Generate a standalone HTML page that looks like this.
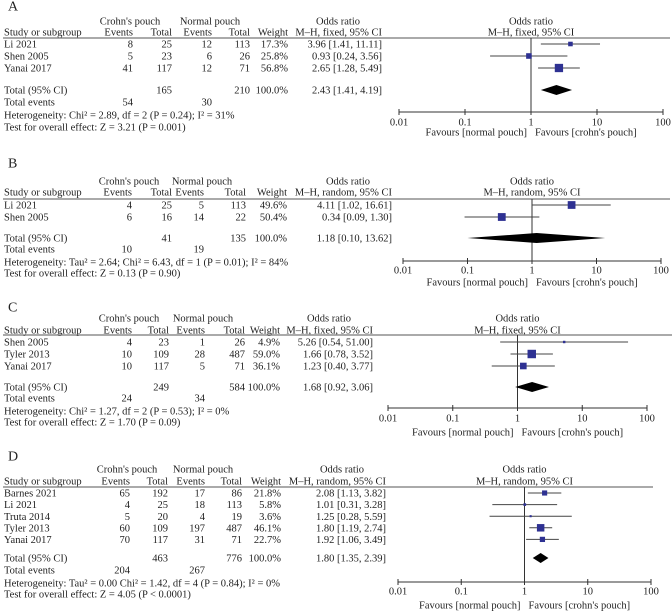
<!DOCTYPE html>
<html><head><meta charset="utf-8"><style>
html,body{margin:0;padding:0;background:#fff;}
svg{display:block;font-family:"Liberation Serif",serif;font-size:10.5px;fill:#222;}
</style></head><body>
<svg id="chart" width="672" height="611" viewBox="0 0 672 611" xmlns="http://www.w3.org/2000/svg"></svg>
<script>
// ---------- Panel A data ----------
const studiesA = ["Li 2021","Shen 2005","Yanai 2017"];
const crohnEventsA = [8,5,41];
const crohnTotalA = [25,23,117];
const normalEventsA = [12,6,12];
const normalTotalA = [113,26,71];
const weightA = [17.3,25.8,56.8];
const orA = [3.96,0.93,2.65];
const loA = [1.41,0.24,1.28];
const hiA = [11.11,3.56,5.49];
const totalA = [165,210,2.43,1.41,4.19,54,30];
// ---------- Panel B data ----------
const studiesB = ["Li 2021","Shen 2005"];
const crohnEventsB = [4,6];
const crohnTotalB = [25,16];
const normalEventsB = [5,14];
const normalTotalB = [113,22];
const weightB = [49.6,50.4];
const orB = [4.11,0.34];
const loB = [1.02,0.09];
const hiB = [16.61,1.30];
const totalB = [41,135,1.18,0.10,13.62,10,19];
// ---------- Panel C data ----------
const studiesC = ["Shen 2005","Tyler 2013","Yanai 2017"];
const crohnEventsC = [4,10,10];
const crohnTotalC = [23,109,117];
const normalEventsC = [1,28,5];
const normalTotalC = [26,487,71];
const weightC = [4.9,59.0,36.1];
const orC = [5.26,1.66,1.23];
const loC = [0.54,0.78,0.40];
const hiC = [51.00,3.52,3.77];
const totalC = [249,584,1.68,0.92,3.06,24,34];
// ---------- Panel D data ----------
const studiesD = ["Barnes 2021","Li 2021","Truta 2014","Tyler 2013","Yanai 2017"];
const crohnEventsD = [65,4,5,60,70];
const crohnTotalD = [192,25,20,109,117];
const normalEventsD = [17,18,4,197,31];
const normalTotalD = [86,113,19,487,71];
const weightD = [21.8,5.8,3.6,46.1,22.7];
const orD = [2.08,1.01,1.25,1.80,1.92];
const loD = [1.13,0.31,0.28,1.19,1.06];
const hiD = [3.82,3.28,5.59,2.74,3.49];
const totalD = [463,776,1.80,1.35,2.39,204,267];
const axisTicks = [0.01,0.1,1,10,100];
const axisTickLabels = ["0.01","0.1","1","10","100"];

const svg = document.getElementById('chart');
const NS = "http://www.w3.org/2000/svg";
function mk(tag, attrs, parent){
  const e = document.createElementNS(NS, tag);
  for (const k in attrs) e.setAttribute(k, attrs[k]);
  (parent||svg).appendChild(e);
  return e;
}
function txt(g, x, y, s, anchor, name){
  const t = mk('text', {x:x, y:y+3.6, 'text-anchor':anchor||'start'}, g);
  
  
  t.textContent = s;
  return t;
}
const f2 = v => v.toFixed(2);

function panel(letter, method, d, L){
  const g = mk('g', {});
  
  
  const sx = v => L.ax0 + (Math.log10(v) + 2) / 4 * (L.ax1 - L.ax0);
  const t = txt(g, 8, L.letter, letter, 'start', 'panel-label');
  t.setAttribute('font-size', '14');
  txt(g, L.cols[0]-3, L.h1, "Crohn's pouch", 'middle', 'crohn-header');
  txt(g, L.cols[2]-2, L.h1, "Normal pouch", 'middle', 'normal-header');
  txt(g, L.orR-44, L.h1, "Odds ratio", 'middle', 'or-header');
  txt(g, (L.ax0+L.ax1)/2, L.h1, "Odds ratio", 'middle', 'plot-header');
  txt(g, 4, L.h2, "Study or subgroup", 'start', 'study-header');
  txt(g, L.cols[0], L.h2, "Events", 'end', 'crohn-events-header');
  txt(g, L.cols[1], L.h2, "Total", 'end', 'crohn-total-header');
  txt(g, L.cols[2], L.h2, "Events", 'end', 'normal-events-header');
  txt(g, L.cols[3], L.h2, "Total", 'end', 'normal-total-header');
  txt(g, L.cols[4], L.h2, "Weight", 'end', 'weight-header');
  txt(g, L.orR, L.h2, "M\u2013H, " + method + ", 95% CI", 'end', 'or-method-header');
  txt(g, (L.ax0+L.ax1)/2, L.h2, "M\u2013H, " + method + ", 95% CI", 'middle', 'plot-method-header');
  const hl = mk('line', {x1:3, x2:L.hEnd, y1:L.hl, y2:L.hl, stroke:'#777', 'stroke-width':1.2}, g);
  
  
  const vl = mk('line', {x1:sx(1), x2:sx(1), y1:L.hl, y2:L.axY, stroke:'#333', 'stroke-width':1}, g);
  
  
  d.studies.forEach((s, i) => {
    const y = L.row0 + i * L.step;
    txt(g, 4, y, s, 'start', 'study-name');
    txt(g, L.cols[0], y, String(d.ce[i]), 'end', 'crohn-events');
    txt(g, L.cols[1], y, String(d.ct[i]), 'end', 'crohn-total');
    txt(g, L.cols[2], y, String(d.ne[i]), 'end', 'normal-events');
    txt(g, L.cols[3], y, String(d.nt[i]), 'end', 'normal-total');
    txt(g, L.cols[4], y, d.w[i].toFixed(1) + "%", 'end', 'weight');
    txt(g, L.orR, y, f2(d.or[i]) + " [" + f2(d.lo[i]) + ", " + f2(d.hi[i]) + "]", 'end', 'odds-ratio-ci');
    const ci = mk('line', {x1:sx(d.lo[i]), x2:sx(d.hi[i]), y1:y, y2:y, stroke:'#444', 'stroke-width':1}, g);
    
    
    const sz = 1.1 * Math.sqrt(d.w[i]);
    const sq = mk('rect', {x:sx(d.or[i]) - sz/2, y:y - sz/2, width:sz, height:sz, fill:'#2e3192'}, g);
    
    
  });
  const T = d.total;
  txt(g, 4, L.tot, "Total (95% CI)", 'start', 'total-label');
  txt(g, L.cols[1], L.tot, String(T[0]), 'end', 'crohn-total-sum');
  txt(g, L.cols[3], L.tot, String(T[1]), 'end', 'normal-total-sum');
  txt(g, L.cols[4], L.tot, "100.0%", 'end', 'total-weight');
  txt(g, L.orR, L.tot, f2(T[2]) + " [" + f2(T[3]) + ", " + f2(T[4]) + "]", 'end', 'total-or-ci');
  const dm = mk('polygon', {points: [sx(T[3])+','+L.tot, sx(T[2])+','+(L.tot-5), sx(T[4])+','+L.tot, sx(T[2])+','+(L.tot+5)].join(' '), fill:'#000'}, g);
  
  
  txt(g, 4, L.te, "Total events", 'start', 'total-events-label');
  txt(g, L.cols[0], L.te, String(T[5]), 'end', 'crohn-total-events');
  txt(g, L.cols[2], L.te, String(T[6]), 'end', 'normal-total-events');
  txt(g, 4, L.het, d.het, 'start', 'heterogeneity');
  txt(g, 4, L.test, d.test, 'start', 'overall-effect');
  const ax = mk('line', {x1:L.ax0, x2:L.ax1, y1:L.axY, y2:L.axY, stroke:'#333', 'stroke-width':1}, g);
  
  
  axisTicks.forEach((v, i) => {
    const tk = mk('line', {x1:sx(v), x2:sx(v), y1:L.axY-3, y2:L.axY+3, stroke:'#333', 'stroke-width':1}, g);
    
    
    txt(g, sx(v), L.lbl, axisTickLabels[i], 'middle', 'x-tick-label');
  });
  txt(g, sx(1)-4, L.fav, "Favours [normal pouch]", 'end', 'favours-normal');
  txt(g, sx(1)+4, L.fav, "Favours [crohn's pouch]", 'start', 'favours-crohn');
}

panel('A', 'fixed', {studies:studiesA, ce:crohnEventsA, ct:crohnTotalA, ne:normalEventsA, nt:normalTotalA, w:weightA, or:orA, lo:loA, hi:hiA, total:totalA,
  het:"Heterogeneity: Chi\u00b2 = 2.89, df = 2 (P = 0.24); I\u00b2 = 31%", test:"Test for overall effect: Z = 3.21 (P = 0.001)"},
  {letter:7, h1:21, h2:32, hl:38, row0:44, step:12, tot:90, te:102, het:115, test:127, cols:[133,172,212,250,288], orR:382,
   ax0:399, ax1:663, axY:112, lbl:122, fav:132, hEnd:670});
panel('B', 'random', {studies:studiesB, ce:crohnEventsB, ct:crohnTotalB, ne:normalEventsB, nt:normalTotalB, w:weightB, or:orB, lo:loB, hi:hiB, total:totalB,
  het:"Heterogeneity: Tau\u00b2 = 2.64; Chi\u00b2 = 6.43, df = 1 (P = 0.01); I\u00b2 = 84%", test:"Test for overall effect: Z = 0.13 (P = 0.90)"},
  {letter:164, h1:181, h2:192, hl:199, row0:205, step:12, tot:238, te:249, het:262, test:273, cols:[132,172,204,246,287], orR:392,
   ax0:403, ax1:661, axY:261, lbl:270, fav:282, hEnd:670});
panel('C', 'fixed', {studies:studiesC, ce:crohnEventsC, ct:crohnTotalC, ne:normalEventsC, nt:normalTotalC, w:weightC, or:orC, lo:loC, hi:hiC, total:totalC,
  het:"Heterogeneity: Chi\u00b2 = 1.27, df = 2 (P = 0.53); I\u00b2 = 0%", test:"Test for overall effect: Z = 1.70 (P = 0.09)"},
  {letter:308, h1:318, h2:330, hl:335, row0:342, step:12, tot:387, te:398, het:411, test:422, cols:[132,169,205,245,280], orR:373,
   ax0:388, ax1:647, axY:408, lbl:418, fav:432, hEnd:672});
panel('D', 'random', {studies:studiesD, ce:crohnEventsD, ct:crohnTotalD, ne:normalEventsD, nt:normalTotalD, w:weightD, or:orD, lo:loD, hi:hiD, total:totalD,
  het:"Heterogeneity: Tau\u00b2 = 0.00 Chi\u00b2 = 1.42, df = 4 (P = 0.84); I\u00b2 = 0%", test:"Test for overall effect: Z = 4.05 (P < 0.0001)"},
  {letter:457, h1:469, h2:481, hl:487, row0:493, step:11.6, tot:558, te:570, het:583, test:594, cols:[130,168,205,242,281], orR:386,
   ax0:398, ax1:651, axY:582, lbl:591, fav:605, hEnd:653});
</script>
</body></html>
